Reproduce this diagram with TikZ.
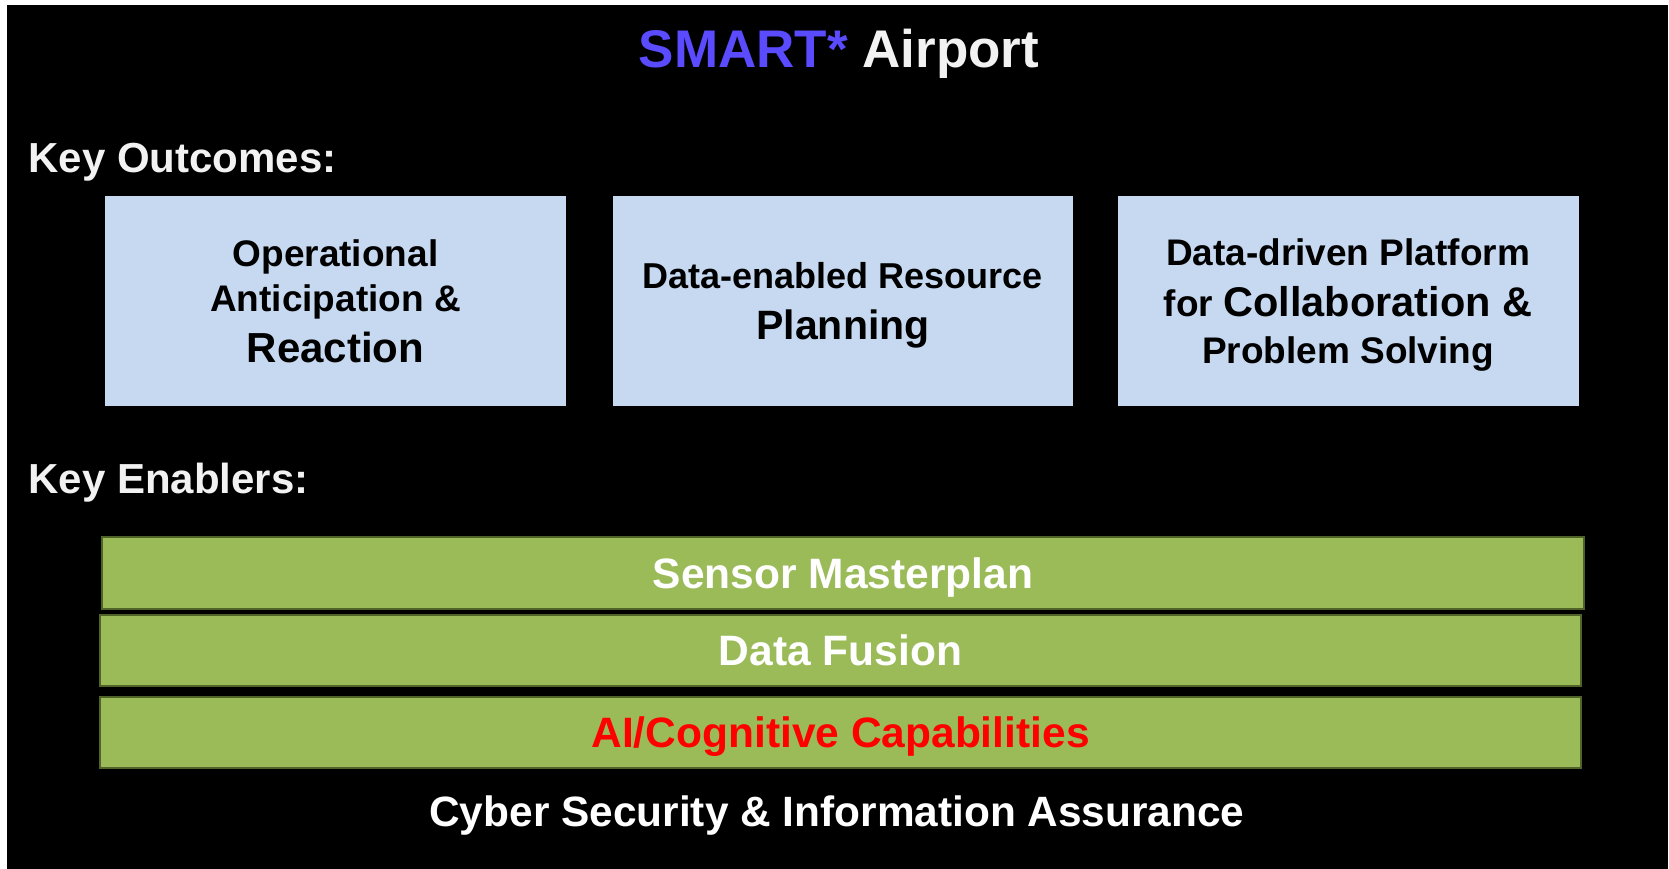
\documentclass[tikz,border=0pt]{standalone}
\usepackage{fontspec}
\setmainfont{Liberation Sans}

\definecolor{smartblue}{RGB}{91,75,255}
\definecolor{outcomefill}{RGB}{198,217,240}
\definecolor{enablerfill}{RGB}{155,187,89}
\definecolor{enablerline}{RGB}{80,99,40}
\definecolor{offwhite}{RGB}{242,242,242}

\begin{document}
\begin{tikzpicture}[x=1pt,y=-1pt,
	heading/.style={anchor=base west, text=offwhite, font=\bfseries\fontsize{42}{50}\selectfont},
	outcome/.style={fill=outcomefill, minimum width=461pt, minimum height=210pt, inner sep=0pt,
		align=center, text=black, text depth=0pt, font=\bfseries\fontsize{37}{45}\selectfont},
	enabler/.style={fill=enablerfill, draw=enablerline, line width=2pt, minimum height=71pt,
		inner sep=0pt, text=white, text height=30.5pt, text depth=0pt,
		font=\bfseries\fontsize{42.5}{50}\selectfont}]

% Draw the background
\fill[white] (0,0) rectangle (1669,869);
\fill[black] (7,5) rectangle (1668,869);

% Title
\node[anchor=base, font=\bfseries\fontsize{53}{60}\selectfont] (title) at (839,68)
	{\textcolor{smartblue}{SMART*} \textcolor{offwhite}{Airport}};

% Key outcomes
\node[heading] (outlabel) at (25,173) {Key Outcomes:};

\node[outcome] (anticipation) at (335.5,301)
	{Operational\\Anticipation \&\\[6pt]{\fontsize{42}{50}\selectfont Reaction}};
\node[outcome, minimum width=460pt] (planning) at (843,301)
	{{\fontsize{36}{44}\selectfont Data-enabled Resource}\\[6pt]{\fontsize{41}{50}\selectfont Planning}};
\node[outcome] (platform) at (1348,301)
	{Data-driven Platform\\[6pt]for {\fontsize{41.5}{50}\selectfont Collaboration \&}\\[2pt]Problem Solving};

% Key enablers
\node[heading] (enlabel) at (25,493) {Key Enablers:};

\node[enabler, minimum width=1482pt, minimum height=72pt] (sensor) at (843,573) {Sensor Masterplan};
\node[enabler, minimum width=1481pt] (fusion) at (840.5,650.5) {Data Fusion};
\node[enabler, minimum width=1481pt, text=red] (cognitive) at (840.5,732.5) {AI/Cognitive Capabilities};

\node[anchor=base, text=white, font=\bfseries\fontsize{42.4}{50}\selectfont] (cyber) at (837,826)
	{Cyber Security \& Information Assurance};

\end{tikzpicture}
\end{document}
